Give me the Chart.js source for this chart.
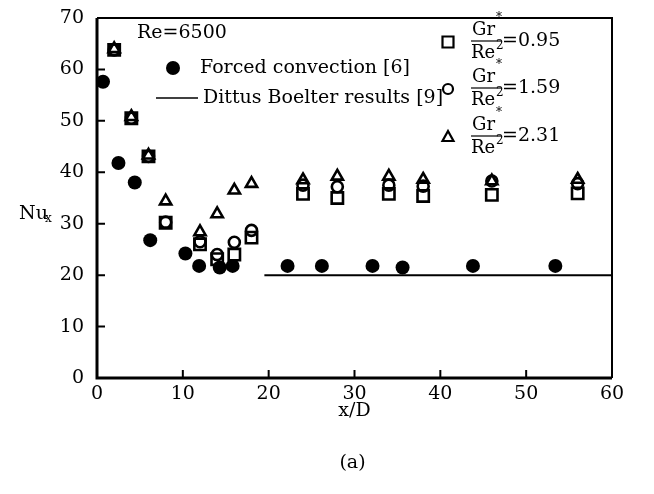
<!DOCTYPE html>
<html>
<head>
<meta charset="utf-8">
<script src="https://cdn.jsdelivr.net/npm/chart.js@4.4.1/dist/chart.umd.min.js"></script>
<style>
  html, body { margin: 0; padding: 0; background: #fff; }
  #wrap { width: 654px; height: 494px; }
</style>
</head>
<body>
<div id="wrap"><canvas id="chart-nu" width="654" height="494"></canvas></div>
<script>
// forced convection reference data [6]
const forcedX = [0.7, 2.5, 4.4, 6.2, 10.3, 11.9, 14.3, 15.8, 22.2, 26.2, 32.1, 35.6, 43.8, 53.4];
const forcedNu = [57.6, 41.8, 38.0, 26.8, 24.2, 21.8, 21.5, 21.8, 21.8, 21.8, 21.8, 21.5, 21.8, 21.8];

// mixed convection, three buoyancy ratios
const mixedX = [2, 4, 6, 8, 12, 14, 16, 18, 24, 28, 34, 38, 46, 56];
const nu095 = [63.8, 50.5, 43.1, 30.2, 26.0, 23.1, 24.0, 27.3, 35.8, 35.0, 35.8, 35.4, 35.6, 35.9];
const nu159 = [63.8, 50.5, 43.1, 30.3, 26.5, 24.0, 26.4, 28.7, 37.5, 37.2, 37.5, 37.3, 38.3, 37.8];
const nu231 = [64.0, 50.8, 43.3, 34.4, 28.4, 31.9, 36.5, 37.8, 38.5, 39.2, 39.2, 38.6, 38.3, 38.6];

// Dittus-Boelter fully developed value [9]
const dittusX = [19.5, 60];
const dittusNu = [20, 20];

const ratioLabels = ['=0.95', '=1.59', '=2.31'];
const xTicks = [0, 10, 20, 30, 40, 50, 60];
const yTicks = [0, 10, 20, 30, 40, 50, 60, 70];

const FONT = '"DejaVu Serif", "Liberation Serif", serif';

function pts(xs, ys) {
  return xs.map((x, i) => ({ x: x, y: ys[i] }));
}

function drawMarker(ctx, kind, x, y) {
  ctx.save();
  ctx.strokeStyle = '#000';
  ctx.lineWidth = 2.2;
  ctx.beginPath();
  if (kind === 'rect') {
    ctx.rect(x - 5.5, y - 5.5, 11, 11);
  } else if (kind === 'circle') {
    ctx.arc(x, y, 5, 0, Math.PI * 2);
  } else {
    ctx.moveTo(x, y - 6);
    ctx.lineTo(x + 5.5, y + 4);
    ctx.lineTo(x - 5.5, y + 4);
    ctx.closePath();
  }
  ctx.stroke();
  ctx.restore();
}

// frame, inward ticks and all the text around the plot
const decorations = {
  id: 'decorations',
  afterDraw(chart) {
    const ctx = chart.ctx;
    const area = chart.chartArea;
    const xs = chart.scales.x;
    const ys = chart.scales.y;
    ctx.save();
    ctx.strokeStyle = '#000';

    ctx.lineWidth = 2;
    ctx.beginPath();
    ctx.moveTo(area.left, area.top);
    ctx.lineTo(area.right, area.top);
    ctx.lineTo(area.right, area.bottom);
    ctx.stroke();

    ctx.lineWidth = 3;
    ctx.beginPath();
    ctx.moveTo(area.left, area.top);
    ctx.lineTo(area.left, area.bottom);
    ctx.lineTo(area.right, area.bottom);
    ctx.stroke();

    ctx.lineWidth = 2;
    ctx.beginPath();
    yTicks.slice(1, -1).forEach(v => {
      const py = ys.getPixelForValue(v);
      ctx.moveTo(area.left, py);
      ctx.lineTo(area.left + 8, py);
    });
    xTicks.slice(1, -1).forEach(v => {
      const px = xs.getPixelForValue(v);
      ctx.moveTo(px, area.bottom);
      ctx.lineTo(px, area.bottom - 8);
    });
    ctx.stroke();

    ctx.fillStyle = '#000';
    ctx.textBaseline = 'middle';
    ctx.textAlign = 'left';
    ctx.font = '19px ' + FONT;
    ctx.fillText('Re=6500', 137, 33);
    ctx.fillText('Forced convection [6]', 200, 68);
    ctx.fillText('Dittus Boelter results [9]', 203, 98);

    ctx.beginPath();
    ctx.arc(173, 68, 7, 0, Math.PI * 2);
    ctx.fill();
    ctx.lineWidth = 1.5;
    ctx.beginPath();
    ctx.moveTo(156, 98);
    ctx.lineTo(198, 98);
    ctx.stroke();

    // buoyancy ratio legend, Gr*/Re^2 written as a stacked fraction
    const kinds = ['rect', 'circle', 'triangle'];
    const rows = [41, 88, 136];
    rows.forEach((r, i) => {
      drawMarker(ctx, kinds[i], 448, r + 1);
      ctx.font = '18px ' + FONT;
      ctx.textAlign = 'left';
      ctx.fillText('Gr', 472, r - 11);
      ctx.fillText('Re', 471, r + 12);
      ctx.font = '12px ' + FONT;
      ctx.fillText('*', 496, r - 23);
      ctx.fillText('2', 496, r + 5);
      ctx.lineWidth = 1.2;
      ctx.beginPath();
      ctx.moveTo(471, r);
      ctx.lineTo(501, r);
      ctx.stroke();
      ctx.font = '19px ' + FONT;
      ctx.fillText(ratioLabels[i], 502, r);
    });

    ctx.font = '19px ' + FONT;
    ctx.fillText('Nu', 19, 214);
    ctx.font = '12px ' + FONT;
    ctx.fillText('x', 45, 219);

    ctx.textAlign = 'center';
    ctx.font = '19px ' + FONT;
    ctx.fillText('x/D', xs.getPixelForValue(30), 411);
    ctx.fillText('(a)', xs.getPixelForValue(30) - 2, 463);
    ctx.restore();
  }
};

const openStyle = { borderColor: '#000', backgroundColor: 'rgba(0,0,0,0)', borderWidth: 2.6 };

new Chart(document.getElementById('chart-nu').getContext('2d'), {
  type: 'scatter',
  data: {
    datasets: [
      {
        label: 'Dittus Boelter results [9]',
        data: pts(dittusX, dittusNu),
        showLine: true,
        borderColor: '#000',
        borderWidth: 2,
        pointRadius: 0,
      },
      {
        label: 'Forced convection [6]',
        data: pts(forcedX, forcedNu),
        pointStyle: 'circle',
        pointRadius: 7,
        backgroundColor: '#000',
        borderColor: '#000',
        borderWidth: 0,
      },
      Object.assign({ label: '0.95', data: pts(mixedX, nu095), pointStyle: 'rect', pointRadius: 8 }, openStyle),
      Object.assign({ label: '1.59', data: pts(mixedX, nu159), pointStyle: 'circle', pointRadius: 5.5 }, openStyle),
      Object.assign({ label: '2.31', data: pts(mixedX, nu231), pointStyle: 'triangle', pointRadius: 6.5 }, openStyle),
    ],
  },
  options: {
    responsive: false,
    animation: false,
    layout: { padding: { left: 0, top: 18, right: 42, bottom: 0 } },
    plugins: { legend: { display: false }, tooltip: { enabled: false } },
    scales: {
      x: {
        type: 'linear',
        min: 0,
        max: 60,
        afterFit: s => { s.height = 116; s.paddingLeft = 0; s.paddingRight = 0; },
        afterBuildTicks: s => { s.ticks = xTicks.map(v => ({ value: v })); },
        grid: { display: false, drawTicks: false },
        border: { display: false },
        ticks: { color: '#000', padding: 5, maxRotation: 0, font: { family: FONT, size: 19 } },
      },
      y: {
        type: 'linear',
        min: 0,
        max: 70,
        afterFit: s => { s.width = 97; s.paddingTop = 0; s.paddingBottom = 0; },
        afterBuildTicks: s => { s.ticks = yTicks.map(v => ({ value: v })); },
        grid: { display: false, drawTicks: false },
        border: { display: false },
        ticks: { color: '#000', padding: 13, font: { family: FONT, size: 19 } },
      },
    },
  },
  plugins: [decorations],
});
</script>
</body>
</html>
